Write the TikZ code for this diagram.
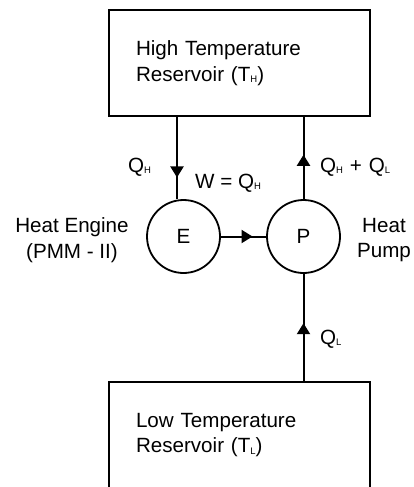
\documentclass[tikz,border=0pt]{standalone}
\usepackage{fontspec}
\setmainfont{Liberation Sans}
\usetikzlibrary{arrows.meta,decorations.markings}
\newcommand\sbs[1]{\raisebox{-1.5pt}{\fontsize{9.5}{9.5}\selectfont #1}}
\begin{document}
\begin{tikzpicture}[x=1pt,y=-1pt,
  every node/.style={font=\fontsize{20.6}{25.5}\selectfont, inner sep=0pt},
  resbox/.style={draw, line width=2pt, minimum width=261pt, align=left, text width=207pt, inner xsep=27pt},
  machine/.style={draw, circle, line width=1.8pt, minimum size=73pt},
  flowline/.style={line width=2pt, postaction={decorate}},
  midarrow/.style={decoration={markings, mark=at position #1 with {\arrow{Triangle[length=11pt,width=13pt]}}}}
]
\useasboundingbox (0,0) rectangle (413,487);
\node[resbox, minimum height=106pt] (hot) at (239.5,63) {High Temperature\\Reservoir (T\sbs{H})};
\node[resbox, minimum height=106pt] (cold) at (239.5,435) {Low Temperature\\Reservoir (T\sbs{L})};
\node[machine] (E) at (183.5,236.5) {E};
\node[machine] (P) at (303.5,236.5) {P};
\coordinate (qh) at (177,116);
\draw[flowline, midarrow=0.74] (qh) -- (qh |- E.north);
\draw[flowline, midarrow=0.54] (P.north) -- (P.north |- hot.south);
\draw[flowline, midarrow=0.54] (P.south |- cold.north) -- (P.south);
\draw[flowline, midarrow=0.70] (E.east) -- (P.west);
\node[anchor=base west] (lqh) at (128,172) {Q\sbs{H}};
\node[anchor=base west] (lw) at (195,188) {W = Q\sbs{H}};
\node[anchor=base west] (lqhl) at (320,172) {Q\sbs{H}\,\,+\,\,Q\sbs{L}};
\node[anchor=base west] (lql) at (320,344) {Q\sbs{L}};
\node[align=center] (leng) at (72,240) {Heat Engine\\(PMM - II)};
\node[align=center] (lpump) at (384,240) {Heat\\Pump};
\end{tikzpicture}
\end{document}
